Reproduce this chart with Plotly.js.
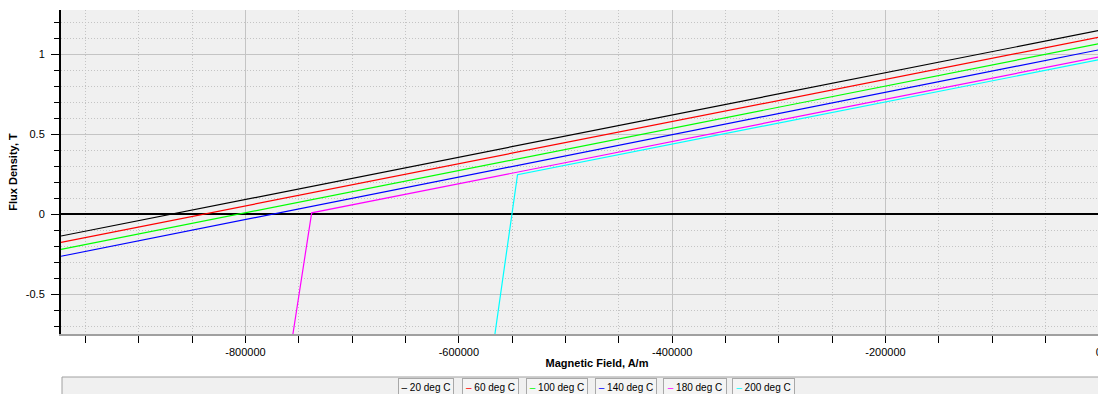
<!DOCTYPE html>
<html>
<head>
<meta charset="utf-8">
<script src="https://cdn.plot.ly/plotly-3.0.1.min.js"></script>
<style>
  html, body { margin: 0; padding: 0; overflow: hidden; background: #fff; }
  #chart { width: 1135px; height: 394px; }
</style>
</head>
<body>
<div id="chart"></div>
<script>
// ---- data ----
const seriesNames = ["20 deg C", "60 deg C", "100 deg C", "140 deg C", "180 deg C", "200 deg C"];
const seriesColors = ["#000000", "#ff0000", "#00ff00", "#0000ff", "#ff00ff", "#00ffff"];

const h20  = [-973000, 0];
const b20  = [-0.1375, 1.147];
const h60  = [-973000, 0];
const b60  = [-0.177, 1.105];
const h100 = [-973000, 0];
const b100 = [-0.221, 1.064];
const h140 = [-973000, 0];
const b140 = [-0.264, 1.026];
const h180 = [-755800, -738000, 0];
const b180 = [-0.76, 0.007, 0.981];
const h200 = [-566400, -545000, 0];
const b200 = [-0.76, 0.246, 0.964];

const xTickVals = [-800000, -600000, -400000, -200000, 0];
const xTickText = ["-800000", "-600000", "-400000", "-200000", "0"];
const yTickVals = [-0.5, 0, 0.5, 1];
const yTickText = ["-0.5", "0", "0.5", "1"];

const xTitle = "Magnetic Field, A/m";
const yTitle = "Flux Density, T";

// ---- build chart ----
const hs = [h20, h60, h100, h140, h180, h200];
const bs = [b20, b60, b100, b140, b180, b200];

const traces = seriesNames.map((name, i) => ({
  type: "scatter",
  mode: "lines",
  name: name,
  x: hs[i],
  y: bs[i],
  line: { color: seriesColors[i], width: 1.2 },
  showlegend: false,
  hoverinfo: "skip"
}));

const W = 1135, H = 394;
const ML = 61, MR = 2, MT = 10, MB = 60;
const plotW = W - ML - MR, plotH = H - MT - MB;
const px2paperX = p => (p - ML) / plotW;
const px2paperY = p => (H - MB - p) / plotH;

// legend made of boxed entries (pixel layout of the reference)
const legendBoxes = [[398, 454], [462, 519], [526, 588], [595, 657], [663, 727], [732, 795]];
const legendAnnotations = seriesNames.map((name, i) => {
  const [l, r] = legendBoxes[i];
  return {
    xref: "paper", yref: "paper",
    x: px2paperX((l + r) / 2), y: px2paperY(387),
    xanchor: "center", yanchor: "middle",
    text: '<span style="color:' + seriesColors[i] + '">\u2013</span> ' + name,
    showarrow: false,
    width: r - l - 2, height: 17,
    align: "center",
    bgcolor: "#f4f4f4",
    bordercolor: "#a8a8a8",
    borderwidth: 1,
    borderpad: 0,
    font: { family: "Liberation Sans, Arial, sans-serif", size: 10, color: "#000" }
  };
});

const layout = {
  width: W, height: H,
  margin: { l: ML, r: MR, t: MT, b: MB },
  paper_bgcolor: "#ffffff",
  plot_bgcolor: "#f0f0f0",
  font: { family: "Liberation Sans, Arial, sans-serif", size: 11, color: "#000" },
  showlegend: false,
  xaxis: {
    range: [-973000, 32000],
    tickmode: "array",
    tickvals: xTickVals,
    ticktext: xTickText,
    ticks: "outside", ticklen: 7, tickwidth: 1, tickcolor: "#000",
    showline: true, linecolor: "#a0a0a0", linewidth: 2,
    showgrid: true, gridcolor: "#c4c4c4", gridwidth: 1,
    zeroline: false,
    minor: {
      tickmode: "linear", tick0: 0, dtick: 50000,
      ticks: "outside", ticklen: 7, tickcolor: "#000", tickwidth: 1,
      showgrid: true, gridcolor: "#c4c4c4", griddash: "1px,2px", gridwidth: 1
    },
    title: { text: "<b>" + xTitle + "</b>", standoff: 2, font: { size: 11, color: "#000" } },
    automargin: false,
    fixedrange: true
  },
  yaxis: {
    range: [-0.75, 1.275],
    tickmode: "array",
    tickvals: yTickVals,
    ticktext: yTickText,
    ticks: "outside", ticklen: 8, tickwidth: 1, tickcolor: "#000",
    ticklabelstandoff: 4,
    showline: true, linecolor: "#000", linewidth: 2,
    showgrid: true, gridcolor: "#c4c4c4", gridwidth: 1,
    zeroline: true, zerolinecolor: "#000", zerolinewidth: 2,
    minor: {
      tickmode: "linear", tick0: 0, dtick: 0.1,
      ticks: "outside", ticklen: 5, tickcolor: "#000", tickwidth: 1,
      showgrid: true, gridcolor: "#c4c4c4", griddash: "1px,2px", gridwidth: 1
    },
    title: { text: "<b>" + yTitle + "</b>", standoff: 6, font: { size: 11, color: "#000" } },
    automargin: false,
    fixedrange: true
  },
  shapes: [{
    type: "rect", xref: "paper", yref: "paper", layer: "below",
    x0: px2paperX(62), x1: 1, y0: px2paperY(377), y1: px2paperY(400),
    fillcolor: "#f0f0f0", line: { color: "#a0a0a0", width: 1 }
  }],
  annotations: legendAnnotations
};

Plotly.newPlot("chart", traces, layout, { staticPlot: true, displayModeBar: false });
</script>
</body>
</html>
